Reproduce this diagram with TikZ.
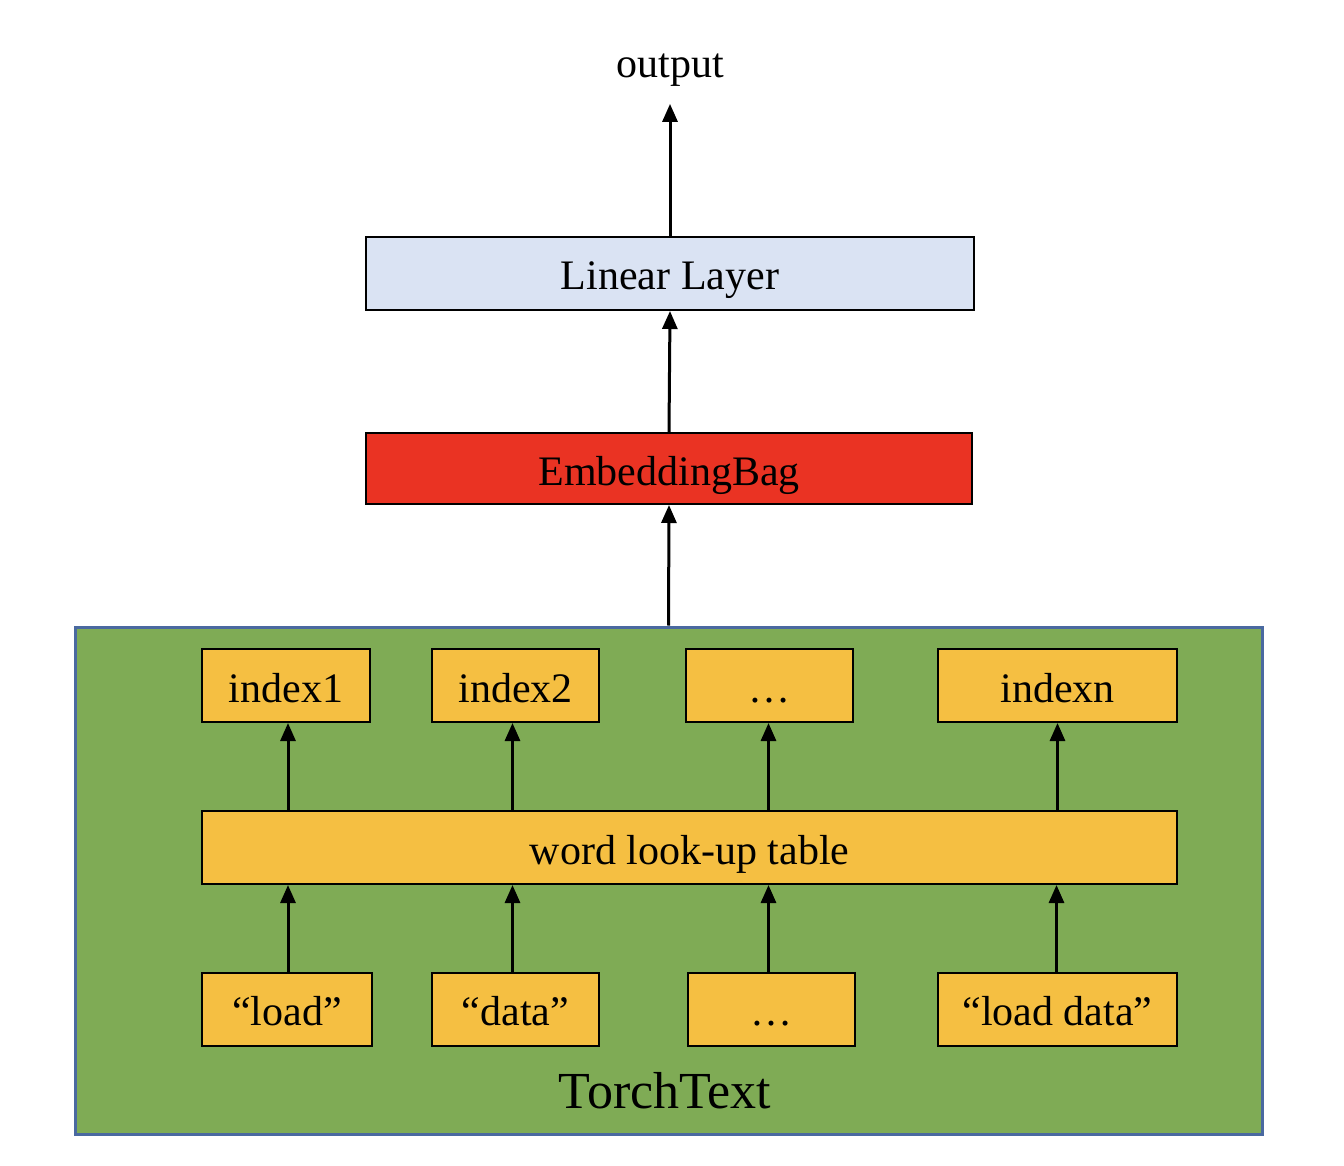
\documentclass[tikz,border=0pt]{standalone}
\usepackage{fontspec}
\setmainfont{Liberation Serif}
\usetikzlibrary{arrows.meta,calc}
\definecolor{linblue}{HTML}{DAE3F3}
\definecolor{embred}{HTML}{EA3323}
\definecolor{tokyel}{HTML}{F5BF42}
\definecolor{ttgreen}{HTML}{7FAB55}
\definecolor{ttedge}{HTML}{4A69A0}
\begin{document}
\begin{tikzpicture}[x=0.5pt,y=-0.5pt,
  lbl/.style={inner sep=0pt,font=\fontsize{21}{24}\selectfont,text height=16.5pt,text depth=0pt},
  blk/.style={lbl,draw=black,line width=1pt},
  tok/.style={blk,fill=tokyel,minimum height=36.5pt},
  flow/.style={line width=1.5pt,-{Triangle[length=9pt,width=7.5pt]}}]
\useasboundingbox (0,0) rectangle (1344,1166);
% TorchText container
\node[draw=ttedge,fill=ttgreen,line width=1.5pt,minimum width=593.5pt,minimum height=253.5pt,inner sep=0pt] (tt) at (668.5,880.5) {};
\node[inner sep=0pt,font=\fontsize{26}{30}\selectfont,text height=20pt,text depth=0pt] (ttlabel) at (665,1088) {TorchText};
% model layers
\node[blk,fill=linblue,minimum width=304pt,minimum height=36.5pt] (lin) at (670,273.5) {Linear Layer};
\node[blk,fill=embred,minimum width=303pt,minimum height=35.5pt] (emb) at (669,468.5) {EmbeddingBag};
\node[lbl] (out) at (670,61) {output};
% index row
\node[tok,minimum width=84pt] (i1) at (286,685.5) {index1};
\node[tok,minimum width=83.5pt] (i2) at (515.5,685.5) {index2};
\node[tok,minimum width=83.5pt] (i3) at (769.5,685.5) {…};
\node[tok,minimum width=119.5pt] (in) at (1057.5,685.5) {indexn};
% look-up table
\node[tok,minimum width=487.5pt] (tbl) at (689.5,847.5) {word look-up table};
% word row
\node[tok,minimum width=85pt] (w1) at (287,1009) {“load”};
\node[tok,minimum width=83.5pt] (w2) at (515.5,1009) {“data”};
\node[tok,minimum width=83.5pt] (w3) at (771.5,1009) {…};
\node[tok,minimum width=119.5pt] (wn) at (1057.5,1009) {“load data”};
% connectors
\draw[flow] (tt.north) -- (emb.south);
\draw[flow] (emb.north) -- (lin.south);
\draw[flow] (lin.north) -- ($(out.south)+(0,26)$);
\draw[flow] ($(tbl.north -| i1.south)+(2,0)$) -- ($(i1.south)+(2,0)$);
\draw[flow] ($(tbl.north -| i2.south)+(-3,0)$) -- ($(i2.south)+(-3,0)$);
\draw[flow] ($(tbl.north -| i3.south)+(-1,0)$) -- ($(i3.south)+(-1,0)$);
\draw[flow] (tbl.north -| in.south) -- (in.south);
\draw[flow] ($(w1.north)+(1,0)$) -- ($(tbl.south -| w1.north)+(1,0)$);
\draw[flow] ($(w2.north)+(-3,0)$) -- ($(tbl.south -| w2.north)+(-3,0)$);
\draw[flow] ($(w3.north)+(-3,0)$) -- ($(tbl.south -| w3.north)+(-3,0)$);
\draw[flow] ($(wn.north)+(-1,0)$) -- ($(tbl.south -| wn.north)+(-1,0)$);
\end{tikzpicture}
\end{document}
